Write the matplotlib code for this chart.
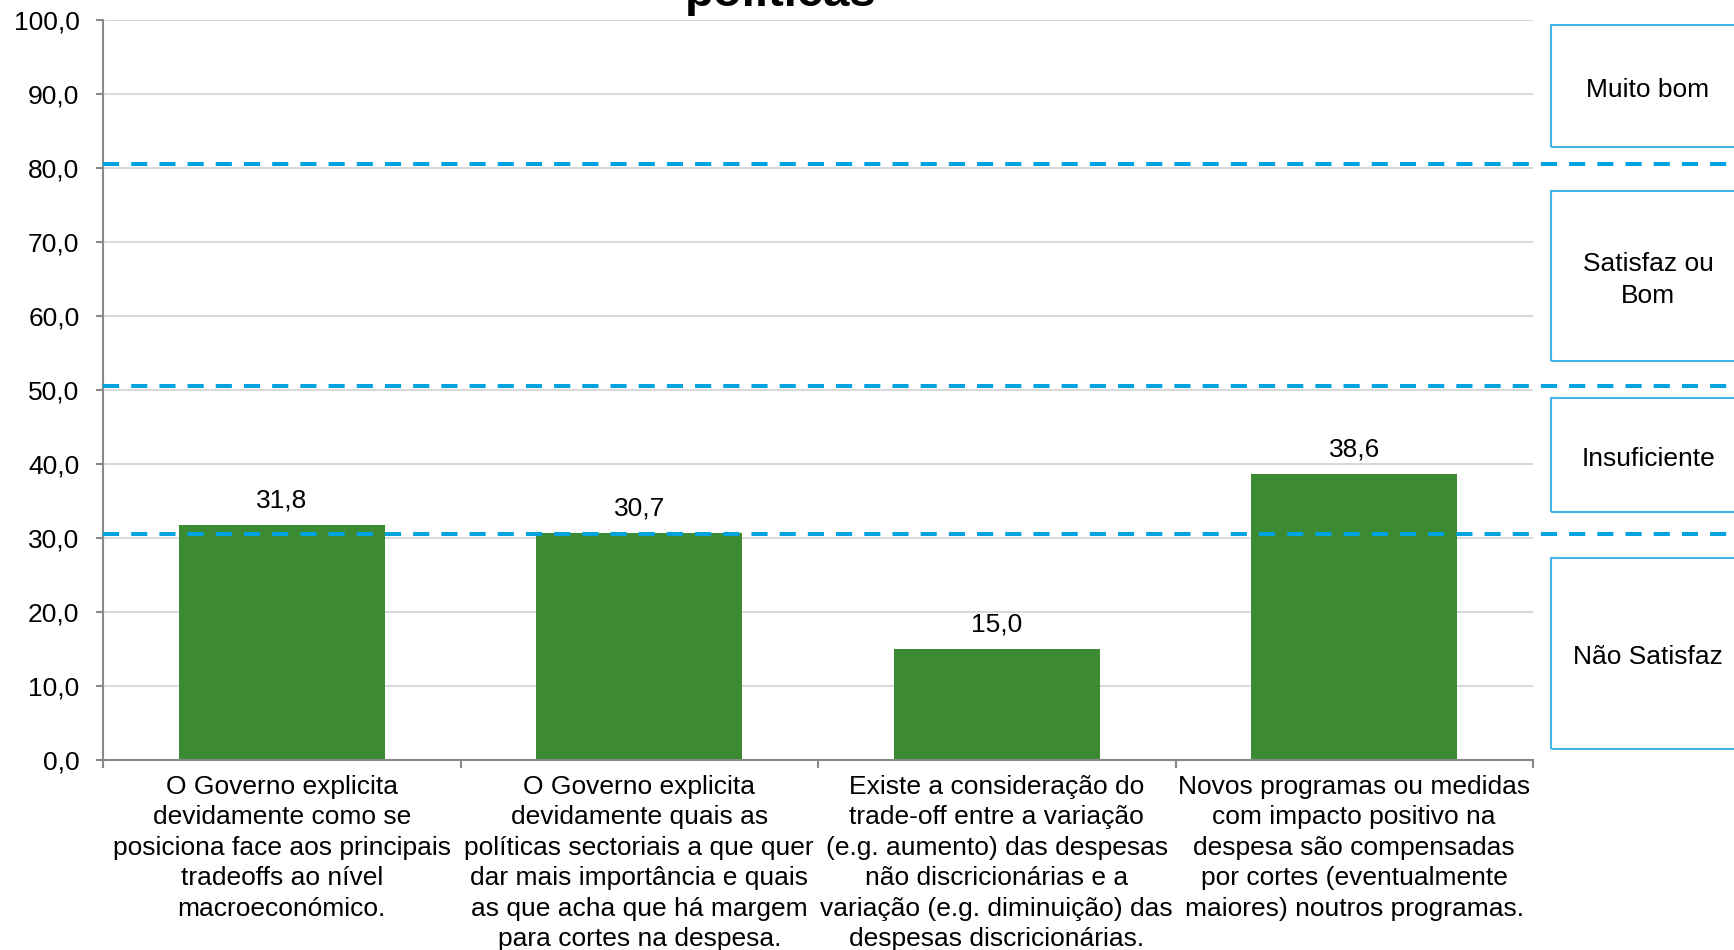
import matplotlib
matplotlib.use("Agg")
import matplotlib.pyplot as plt
from matplotlib.patches import Rectangle
from matplotlib.transforms import blended_transform_factory

plt.rcParams['font.family'] = ['Liberation Sans', 'DejaVu Sans']

categories = [
    "O Governo explicita\ndevidamente como se\nposiciona face aos principais\ntradeoffs ao nível\nmacroeconómico.",
    "O Governo explicita\ndevidamente quais as\npolíticas sectoriais a que quer\ndar mais importância e quais\nas que acha que há margem\npara cortes na despesa.",
    "Existe a consideração do\ntrade-off entre a variação\n(e.g. aumento) das despesas\nnão discricionárias e a\nvariação (e.g. diminuição) das\ndespesas discricionárias.",
    "Novos programas ou medidas\ncom impacto positivo na\ndespesa são compensadas\npor cortes (eventualmente\nmaiores) noutros programas.",
]
values = [31.8, 30.7, 15.0, 38.6]
thresholds = [30.5, 50.5, 80.5]
band_labels = ["Muito bom", "Satisfaz ou\nBom", "Insuficiente", "Não Satisfaz"]
yticks = [0, 10, 20, 30, 40, 50, 60, 70, 80, 90, 100]
title = "políticas"

W, H = 1734, 950
fig = plt.figure(figsize=(W / 100, H / 100), dpi=100)
ax = fig.add_axes([103 / W, 1 - 760 / H, (1533 - 103) / W, (760 - 20) / H])

FS = 19
green = '#3C8B32'
cyan = '#00A3E0'
boxc = '#45B3E3'
spinec = '#898989'

x = list(range(len(values)))
ax.bar(x, values, width=0.575, color=green, zorder=2)
for xi, v in zip(x, values):
    ax.annotate(f"{v:.1f}".replace('.', ','), (xi, v), xytext=(0, 12.5),
                textcoords='offset points', ha='center', va='baseline', fontsize=FS)

ax.set_ylim(0, 100)
ax.set_xlim(-0.5, len(values) - 0.5)
ax.set_yticks(yticks)
ax.set_yticklabels([f"{t:.1f}".replace('.', ',') for t in yticks], fontsize=FS)
ax.grid(axis='y', color='#D9D9D9', linewidth=1.5, zorder=0)
ax.set_axisbelow(True)

ax.set_xticks([i - 0.5 for i in range(len(values) + 1)])
ax.set_xticklabels([])
ax.set_xticks(x, minor=True)
ax.set_xticklabels(categories, minor=True, fontsize=FS, linespacing=1.345)
ax.tick_params(axis='x', which='minor', length=0, pad=10.5)
ax.tick_params(axis='x', which='major', length=6, width=1.5, color=spinec, direction='out')
ax.tick_params(axis='y', length=5, width=1.5, color=spinec, pad=12)

for s in ['top', 'right']:
    ax.spines[s].set_visible(False)
for s in ['left', 'bottom']:
    ax.spines[s].set_color(spinec)
    ax.spines[s].set_linewidth(1.5)

tr = blended_transform_factory(ax.transAxes, ax.transData)
for t in thresholds:
    ax.plot([0, 1.3], [t, t], transform=tr, color=cyan, linewidth=2.9,
            dashes=(4, 3), clip_on=False, zorder=5)

# category boxes on the right (pixel extents)
boxes_px = [(25, 147), (191, 361), (398, 512), (558, 749)]
for (top, bot), lab in zip(boxes_px, band_labels):
    rect = Rectangle((1551 / W, 1 - bot / H), 0.2, (bot - top) / H,
                     transform=fig.transFigure, fill=False, edgecolor=boxc,
                     linewidth=1.5)
    fig.add_artist(rect)
    fig.text(1648 / W, 1 - ((top + bot) / 2 + 4) / H, lab, ha='center', va='center',
             fontsize=FS, linespacing=1.45)

fig.text(781 / W, 1 - 6 / H, title, ha='center', va='baseline',
         fontsize=34, fontweight='bold')

fig.savefig('out.png', dpi=100)
